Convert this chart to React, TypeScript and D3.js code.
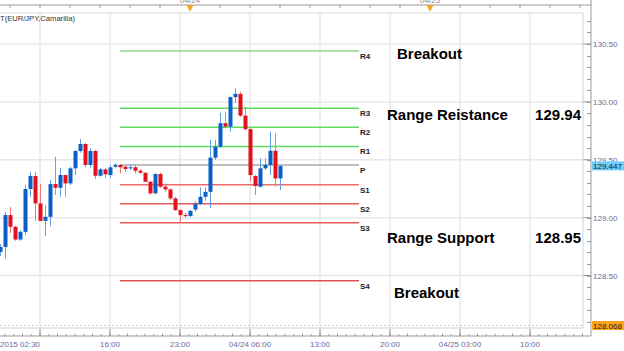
import React from "react";
import * as d3 from "d3";

const W = 624;
const H = 351;

// Candle data (30-minute bars), starting 2015-04-23 05:00
const startTime = new Date(2015, 3, 23, 5, 0);
const opens = [128.704, 128.747, 129.022, 128.921, 128.811, 128.877, 129.247, 129.359, 129.123, 128.972, 129.007, 129.29, 129.258, 129.368, 129.296, 129.426, 129.576, 129.636, 129.455, 129.576, 129.362, 129.417, 129.368, 129.44, 129.455, 129.44, 129.426, 129.435, 129.405, 129.388, 129.31, 129.21, 129.377, 129.267, 129.244, 129.166, 129.065, 129.022, 129.013, 129.07, 129.117, 129.18, 129.223, 129.518, 129.613, 129.816, 129.786, 130.041, 130.069, 129.881, 129.764, 129.359, 129.267, 129.426, 129.455, 129.578, 129.339];
const highs = [128.77, 129.05, 129.091, 128.93, 128.89, 129.281, 129.397, 129.397, 129.29, 129.108, 129.325, 129.526, 129.43, 129.368, 129.44, 129.584, 129.68, 129.645, 129.602, 129.584, 129.43, 129.43, 129.455, 129.47, 129.46, 129.455, 129.463, 129.457, 129.42, 129.388, 129.318, 129.383, 129.388, 129.296, 129.253, 129.18, 129.071, 129.04, 129.065, 129.14, 129.261, 129.261, 129.671, 129.671, 129.905, 129.916, 130.046, 130.119, 130.087, 129.954, 129.772, 129.368, 129.513, 129.513, 129.743, 129.729, 129.455];
const lows = [128.67, 128.647, 128.866, 128.8, 128.8, 128.848, 129.18, 128.972, 128.972, 128.84, 128.929, 129.195, 129.18, 129.18, 129.281, 129.368, 129.561, 129.437, 129.426, 129.333, 129.355, 129.342, 129.342, 129.426, 129.383, 129.394, 129.411, 129.383, 129.38, 129.305, 129.195, 129.2, 129.258, 129.223, 129.151, 129.059, 128.955, 129.0, 129.007, 129.05, 129.108, 129.145, 129.08, 129.498, 129.602, 129.772, 129.743, 129.989, 129.87, 129.752, 129.31, 129.195, 129.261, 129.411, 129.368, 129.267, 129.238];
const closes = [128.747, 129.022, 128.921, 128.811, 128.877, 129.247, 129.359, 129.123, 128.972, 129.007, 129.29, 129.258, 129.368, 129.296, 129.426, 129.576, 129.636, 129.455, 129.576, 129.362, 129.417, 129.374, 129.434, 129.457, 129.435, 129.42, 129.435, 129.405, 129.388, 129.31, 129.21, 129.377, 129.267, 129.244, 129.166, 129.065, 129.022, 129.013, 129.059, 129.12, 129.18, 129.223, 129.518, 129.613, 129.816, 129.786, 130.041, 130.069, 129.881, 129.764, 129.368, 129.273, 129.426, 129.455, 129.578, 129.339, 129.446];

// Camarilla pivot levels
const pivotNames = ["R4", "R3", "R2", "R1", "P", "S1", "S2", "S3", "S4"];
const pivotValues = [130.44, 129.945, 129.78, 129.615, 129.455, 129.285, 129.12, 128.955, 128.455];
const pivotColors = ["#8fd88f", "#5fdc5f", "#5fdc5f", "#5fdc5f", "#a8a8a8", "#ee6a6a", "#e85a5a", "#e85a5a", "#e05050"];

// Axis ticks
const priceTicks = [128.5, 129.0, 129.5, 130.0, 130.5];
const priceTickLabels = ["128.50", "129.00", "129.50", "130.00", "130.50"];
const timeTickDates = [
  new Date(2015, 3, 23, 9, 0), new Date(2015, 3, 23, 16, 0), new Date(2015, 3, 23, 23, 0),
  new Date(2015, 3, 24, 6, 0), new Date(2015, 3, 24, 13, 0), new Date(2015, 3, 24, 20, 0),
  new Date(2015, 3, 25, 3, 0), new Date(2015, 3, 25, 10, 0),
];
const timeTickLabels = ["2015 02:30", "16:00", "23:00", "04/24 06:00", "13:00", "20:00", "04/25 03:00", "10:00"];
const dayMarkers = [new Date(2015, 3, 24, 0, 0), new Date(2015, 3, 25, 0, 0)];
const dayMarkerLabels = ["04/24", "04/25"];

const lastPrice = 129.447;
const lowPrice = 128.068;

const annotationTexts = ["Breakout", "Range Reistance", "Range Support", "Breakout"];
const annotationNumbers = ["", "129.94", "128.95", ""];

const HOUR = 3600 * 1000;

export default function App() {
  const plotLeft = 0;
  const plotRight = 583;
  const plotTop = 13;
  const plotBottom = 328;
  const axisX = 591;
  const axisY = 336;

  const x = d3
    .scaleTime()
    .domain([startTime, new Date(+startTime + 58.3 * HOUR)])
    .range([plotLeft, plotRight]);
  const y = d3.scaleLinear().domain([128.5, 130.5]).range([275.5, 44]);

  const candles = opens.map((o, i) => ({
    t: new Date(+startTime + i * 0.5 * HOUR),
    o,
    h: highs[i],
    l: lows[i],
    c: closes[i],
  }));

  const pivotStart = new Date(2015, 3, 23, 17, 0);
  const pivotEnd = new Date(2015, 3, 24, 16, 54);

  const topTicks = d3.range(0, 20).map((k) => new Date(2015, 3, 23, 6 + 3 * k, 0));
  const bottomMinor = d3.range(0, 70).map((k) => new Date(+new Date(2015, 3, 23, 5, 30) + k * 0.875 * HOUR));
  const priceMinor = d3.range(128.1, 130.75, 0.1);

  const annX = [397, 387, 387, 394];
  const annY = [58.5, 119.5, 242.5, 297.5];

  const font = "'Liberation Sans', Arial, sans-serif";
  const axisColor = "#6b6b9b";

  return (
    <svg
      width={W}
      height={H}
      style={{ position: "fixed", left: 0, top: 0, background: "#fff" }}
      fontFamily={font}
    >
      <defs>
        <clipPath id="plot">
          <rect x={plotLeft} y={plotTop} width={plotRight - plotLeft} height={plotBottom - plotTop} />
        </clipPath>
      </defs>
      <rect x={0} y={0} width={W} height={H} fill="#fff" />

      {/* grid */}
      <g clipPath="url(#plot)">
        {priceTicks.map((v, i) => (
          <line key={"hg" + i} x1={plotLeft} x2={plotRight} y1={y(v)} y2={y(v)} stroke="#e8e8e8" strokeWidth={1.5} />
        ))}
        {timeTickDates.map((d, i) => (
          <line key={"vg" + i} x1={x(d)} x2={x(d)} y1={plotTop} y2={plotBottom} stroke="#e8e8e8" strokeWidth={1.5} />
        ))}
        <line x1={plotLeft} x2={plotRight} y1={y(lowPrice)} y2={y(lowPrice)} stroke="#d0d0d0" strokeDasharray="2,2" />
      </g>

      {/* frame */}
      <line x1={plotLeft} x2={plotRight} y1={plotTop} y2={plotTop} stroke="#d4dbe8" />
      <line x1={plotLeft} x2={plotRight} y1={plotBottom} y2={plotBottom} stroke="#c8d2e6" />
      <line x1={plotRight} x2={plotRight} y1={plotTop} y2={plotBottom} stroke="#c8d2e6" />

      {/* pivot lines */}
      {pivotValues.map((v, i) => (
        <g key={"pv" + i}>
          <line x1={x(pivotStart)} x2={x(pivotEnd)} y1={y(v)} y2={y(v)} stroke={pivotColors[i]} strokeWidth={1.5} />
          <text x={x(pivotEnd) + 1} y={y(v) + 8} fontSize={8} fontWeight="bold" fill="#222">
            {pivotNames[i]}
          </text>
        </g>
      ))}

      {/* candles */}
      <g clipPath="url(#plot)">
        {candles.map((d, i) => {
          const up = d.c >= d.o;
          const cx = Math.round(x(d.t));
          const top = y(Math.max(d.o, d.c));
          const bot = y(Math.min(d.o, d.c));
          return (
            <g key={"c" + i}>
              <line
                x1={cx + 0.5}
                x2={cx + 0.5}
                y1={y(d.h)}
                y2={y(d.l)}
                stroke={up ? "#5e9ee6" : "#f07a7a"}
                strokeWidth={1}
              />
              <rect
                x={cx - 1.5}
                y={top}
                width={4}
                height={Math.max(1, bot - top)}
                fill={up ? "#0b5fc8" : "#e3111b"}
              />
            </g>
          );
        })}
      </g>

      {/* title */}
      <text x={0} y={21} fontSize={7.6} fill="#333">T(EUR/JPY,Camarilla)</text>

      {/* annotations */}
      {annotationTexts.map((t, i) => (
        <g key={"an" + i}>
          <text x={annX[i]} y={annY[i]} fontSize={15} fontWeight="bold" fill="#000">
            {t}
          </text>
          {annotationNumbers[i] && (
            <text x={581} y={annY[i]} fontSize={15} fontWeight="bold" fill="#000" textAnchor="end">
              {annotationNumbers[i]}
            </text>
          )}
        </g>
      ))}

      {/* top axis */}
      <line x1={0} x2={axisX} y1={5} y2={5} stroke="#999" />
      {topTicks.map((d, i) =>
        x(d) < plotRight ? <line key={"tt" + i} x1={x(d)} x2={x(d)} y1={5} y2={8} stroke="#999" /> : null
      )}
      {dayMarkers.map((d, i) => (
        <g key={"dm" + i}>
          <text x={x(d)} y={3} fontSize={8} fill="#888" textAnchor="middle">{dayMarkerLabels[i]}</text>
          <path d={`M${x(d) - 3.5},5 L${x(d) + 3.5},5 L${x(d)},12 Z`} fill="#f5a623" />
        </g>
      ))}

      {/* bottom axis */}
      <line x1={0} x2={axisX} y1={axisY} y2={axisY} stroke="#999" />
      {bottomMinor.map((d, i) =>
        x(d) < plotRight ? (
          <line key={"bm" + i} x1={x(d)} x2={x(d)} y1={axisY - (i % 2 === 0 ? 2.5 : 1.8)} y2={axisY} stroke="#999" />
        ) : null
      )}
      {timeTickDates.map((d, i) => (
        <g key={"bt" + i}>
          <line x1={x(d)} x2={x(d)} y1={axisY - 7} y2={axisY} stroke="#888" />
          <text
            x={i === 0 ? 0 : x(d)}
            y={347}
            fontSize={8}
            fill={axisColor}
            textAnchor={i === 0 ? "start" : "middle"}
          >
            {timeTickLabels[i]}
          </text>
        </g>
      ))}

      {/* right axis */}
      <line x1={axisX} x2={axisX} y1={0} y2={axisY} stroke="#999" />
      {priceMinor.map((v, i) => (
        <line key={"pm" + i} x1={axisX - 4} x2={axisX} y1={Math.round(y(v)) + 0.5} y2={Math.round(y(v)) + 0.5} stroke="#999" />
      ))}
      {priceTicks.map((v, i) => (
        <g key={"pt" + i}>
          <line x1={plotRight} x2={axisX} y1={y(v)} y2={y(v)} stroke="#999" />
          <text x={593} y={y(v) + 3} fontSize={8} fill={axisColor}>{priceTickLabels[i]}</text>
        </g>
      ))}
      <rect x={592} y={y(lastPrice) - 4.5} width={32} height={9} fill="#6fcdfa" />
      <text x={593} y={y(lastPrice) + 3} fontSize={8} fill="#123">{lastPrice.toFixed(3)}</text>
      <rect x={592} y={y(lowPrice) - 4.5} width={32} height={9} fill="#ffa31a" />
      <text x={593} y={y(lowPrice) + 3} fontSize={8} fill="#222">{lowPrice.toFixed(3)}</text>
    </svg>
  );
}
